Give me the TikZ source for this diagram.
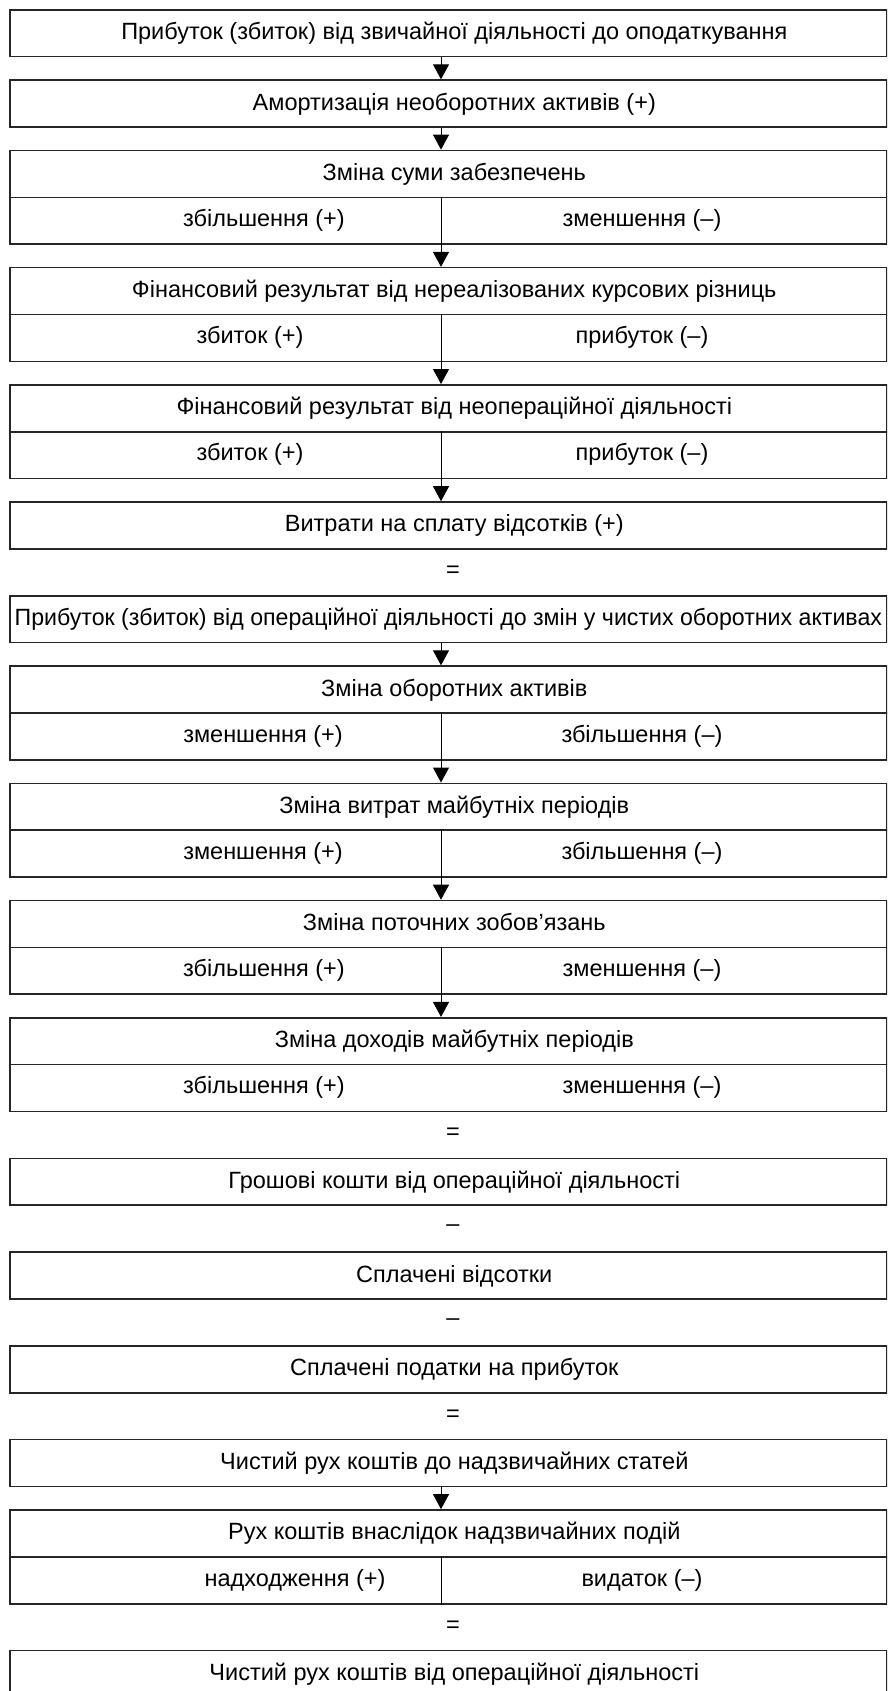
\documentclass[tikz,border=0pt]{standalone}
\usepackage{fontspec}
\usepackage{graphicx}
\setmainfont{Liberation Sans}
\usetikzlibrary{arrows.meta}
\begin{document}
\begin{tikzpicture}[x=1pt, y=-23.44pt,
  txt/.style={font=\fontsize{23.5}{28}\selectfont},
  box/.style={txt, draw=black!85, line width=1.6pt, minimum width=877pt,
    minimum height=46.88pt, inner sep=0pt, anchor=north west,
    text height=17pt, text depth=4pt,
    execute at begin node=\hspace*{12pt}},
  lbl/.style={txt, inner sep=0pt, text height=17pt, text depth=4pt},
  sym/.style={txt, inner sep=0pt},
  divider/.style={line width=1pt, black},
  arr/.style={line width=1pt, black, -{Triangle[length=15pt,width=16pt]}}
]
\useasboundingbox (0pt,0pt) rectangle (887pt,-1691pt);
\clip (0pt,0pt) rectangle (887pt,-1691pt);
\begin{scope}[yshift=-9pt]
\coordinate (ax) at (441,0);

% upper chain
\node[box] (b1) at (9,0) {Прибуток (збиток) від звичайної діяльності до оподаткування};
\node[box] (b2) at (9,3) {Амортизація необоротних активів (+)};
\node[box] (b3) at (9,6) {Зміна суми забезпечень};
\node[box] (b3s) at (9,8) {};
\node[lbl] (b3l) at (264,9) {збільшення (+)};
\node[lbl] (b3r) at (642,9) {зменшення (–)};
\node[box] (b4) at (9,11) {Фінансовий результат від нереалізованих курсових різниць};
\node[box] (b4s) at (9,13) {};
\node[lbl] (b4l) at (250,14) {збиток (+)};
\node[lbl] (b4r) at (642,14) {прибуток (–)};
\node[box] (b5) at (9,16) {Фінансовий результат від неопераційної діяльності};
\node[box] (b5s) at (9,18) {};
\node[lbl] (b5l) at (250,19) {збиток (+)};
\node[lbl] (b5r) at (642,19) {прибуток (–)};
\node[box] (b6) at (9,21) {Витрати на сплату відсотків (+)};
\node[sym] (e1) at (453,24) {=};

% working capital changes (the long title fills the whole box, no lead-in)
\node[box] (b7) at (9,25) {\hspace*{-12pt}\scalebox{0.985}[1]{Прибуток (збиток) від операційної діяльності до змін у чистих оборотних активах}};
\node[box] (b8) at (9,28) {Зміна оборотних активів};
\node[box] (b8s) at (9,30) {};
\node[lbl] (b8l) at (263,31) {зменшення (+)};
\node[lbl] (b8r) at (642,31) {збільшення (–)};
\node[box] (b9) at (9,33) {Зміна витрат майбутніх періодів};
\node[box] (b9s) at (9,35) {};
\node[lbl] (b9l) at (263,36) {зменшення (+)};
\node[lbl] (b9r) at (642,36) {збільшення (–)};
\node[box] (b10) at (9,38) {Зміна поточних зобов’язань};
\node[box] (b10s) at (9,40) {};
\node[lbl] (b10l) at (264,41) {збільшення (+)};
\node[lbl] (b10r) at (642,41) {зменшення (–)};
\node[box] (b11) at (9,43) {Зміна доходів майбутніх періодів};
\node[box] (b11s) at (9,45) {};
\node[lbl] (b11l) at (264,46) {збільшення (+)};
\node[lbl] (b11r) at (642,46) {зменшення (–)};
\node[sym] (e2) at (453,48) {=};

% cash flows
\node[box] (b12) at (9,49) {Грошові кошти від операційної діяльності};
\node[sym] (m1) at (453,52) {–};
\node[box] (b13) at (9,53) {Сплачені відсотки};
\node[sym] (m2) at (453,56) {–};
\node[box] (b14) at (9,57) {Сплачені податки на прибуток};
\node[sym] (e3) at (453,60) {=};
\node[box] (b15) at (9,61) {Чистий рух коштів до надзвичайних статей};
\node[box] (b16) at (9,64) {Рух коштів внаслідок надзвичайних подій};
\node[box] (b16s) at (9,66) {};
\node[lbl] (b16l) at (295,67) {надходження (+)};
\node[lbl] (b16r) at (642,67) {видаток (–)};
\node[sym] (e4) at (453,69) {=};
\node[box] (b17) at (9,70) {Чистий рух коштів від операційної діяльності};

% split dividers
\foreach \s in {b3s,b4s,b5s,b8s,b9s,b10s,b16s}
  \draw[divider] (\s.north -| ax) -- (\s.south -| ax);

% arrows
\foreach \a/\b in {b1/b2,b2/b3,b3s/b4,b4s/b5,b5s/b6,b7/b8,b8s/b9,b9s/b10,b10s/b11,b15/b16}
  \draw[arr] (\a.south -| ax) -- (\b.north -| ax);
\end{scope}
\end{tikzpicture}
\end{document}
